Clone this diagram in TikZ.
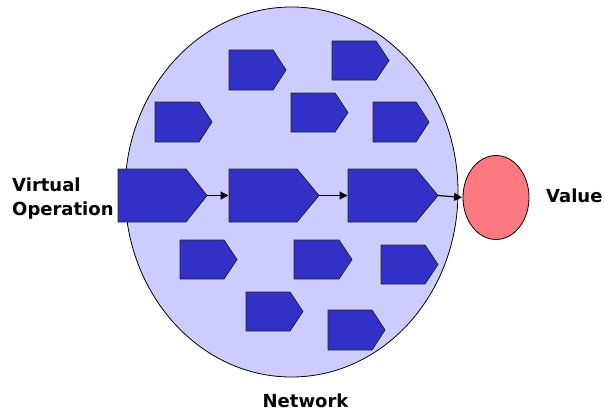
\documentclass[tikz,border=0pt]{standalone}
\usepackage{fontspec}
\setmainfont{DejaVu Sans}
\usetikzlibrary{arrows.meta,shapes.geometric}
\definecolor{netfill}{HTML}{CCCCFF}
\definecolor{blkfill}{HTML}{3131C8}
\definecolor{valfill}{HTML}{FF7A80}
\tikzset{
  blk/.style={fill=blkfill, draw=black!85, line width=0.8pt, line join=miter},
  link/.style={draw=black, line width=1.2pt, -{Triangle[length=8pt,width=8pt]}, shorten >=0.5pt},
  lbl/.style={font=\bfseries\fontsize{18}{24}\selectfont, inner sep=0pt}
}
% #1 name, #2 left x, #3 top y, #4 width, #5 height, #6 point length
\newcommand\blkshape[6]{%
  \draw[blk] (#2,#3) -- ++(#4-#6,0) -- ++(#6,#5/2) -- ++(-#6,#5/2) -- ++(#6-#4,0) -- cycle;
  \coordinate (#1-w) at (#2,#3+#5/2);
  \coordinate (#1-e) at (#2+#4,#3+#5/2);
}
\begin{document}
\begin{tikzpicture}[x=1pt,y=-1pt]
\useasboundingbox (0,0) rectangle (604,412);
\node[draw=black, line width=0.8pt, fill=netfill, ellipse, minimum width=333pt, minimum height=370pt, inner sep=0pt] (net) at (291.5,192) {};
\node[draw=black, line width=0.8pt, fill=valfill, ellipse, minimum width=66pt, minimum height=84pt, inner sep=0pt] (val) at (496,197.5) {};
% small blocks
\blkshape{a}{155}{102}{57}{40}{13}
\blkshape{b}{229}{50}{57}{40}{13}
\blkshape{c}{332}{41}{57}{39}{13}
\blkshape{d}{291}{93}{57}{39}{13}
\blkshape{e}{373}{102}{56}{40}{13}
\blkshape{f}{180}{240}{57}{39}{13}
\blkshape{g}{294}{240}{58}{39}{13}
\blkshape{h}{381}{245}{57}{39}{13}
\blkshape{i}{246}{292}{57}{39}{13}
\blkshape{j}{328}{310}{57}{40}{13}
% main chain
\blkshape{s1}{118}{169}{89}{53}{21}
\blkshape{s2}{229}{169}{90}{53}{22}
\blkshape{s3}{348}{169}{90}{53}{22}
\draw[link] (s1-e) -- (s2-w);
\draw[link] (s2-e) -- (s3-w);
\draw[link] (s3-e) -- (val.west);
\node[lbl, anchor=base west, align=left] (vo) at (12,215) {Virtual\\Operation};
\node[lbl, anchor=base west] (vl) at (546,202) {Value};
\node[lbl, anchor=base] (nw) at (305.5,407) {Network};
\end{tikzpicture}
\end{document}
